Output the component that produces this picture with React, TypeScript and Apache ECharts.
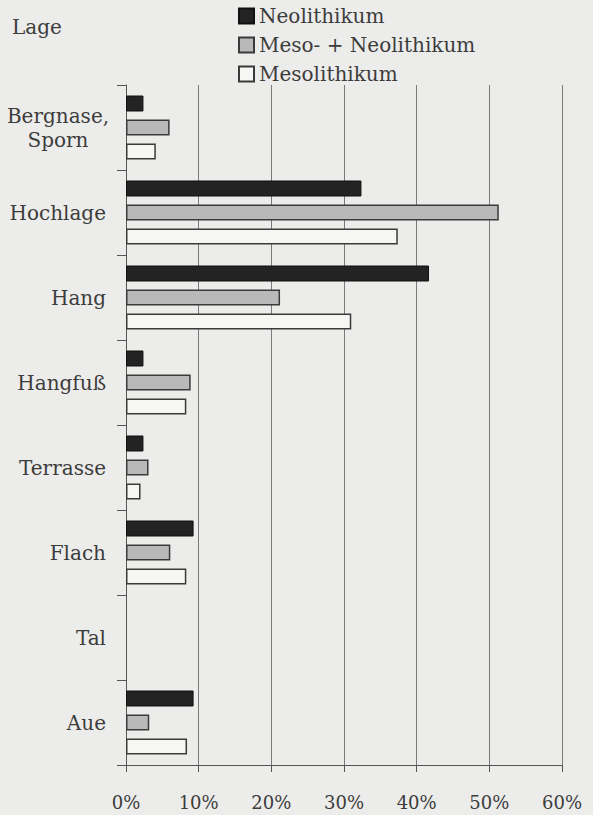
import React, { useEffect, useRef } from "react";
import * as echarts from "echarts";

const categories = ["Bergnase,\nSporn", "Hochlage", "Hang", "Hangfuß", "Terrasse", "Flach", "Tal", "Aue"];
const seriesNames = ["Neolithikum", "Meso- + Neolithikum", "Mesolithikum"];
const neolithikum = [2.4, 32.4, 41.7, 2.4, 2.4, 9.3, 0, 9.3];
const mesoNeolithikum = [6.0, 51.3, 21.2, 8.9, 3.1, 6.1, 0, 3.2];
const mesolithikum = [4.1, 37.4, 31.0, 8.3, 2.0, 8.3, 0, 8.4];
const xTicks = { min: 0, max: 60, interval: 10 };

const FONT = "'DejaVu Serif', 'Liberation Serif', serif";
const TEXT = "#3c3c3c";
const LINE = "#555555";

const withZeroHidden = (arr: number[]) =>
  arr.map((v) => (v === 0 ? { value: v, itemStyle: { borderWidth: 0, opacity: 0 } } : v));

export default function App() {
  const ref = useRef<HTMLDivElement>(null);
  useEffect(() => {
    if (!ref.current) return;
    const chart = echarts.init(ref.current, undefined, { renderer: "svg" });
    const barBase = { type: "bar", barWidth: 16, barGap: "50%" };
    chart.setOption({
      animation: false,
      backgroundColor: "#ececea",
      textStyle: { fontFamily: FONT },
      grid: { left: 126, right: 31, top: 85, bottom: 50, containLabel: false },
      legend: {
        orient: "vertical",
        left: 233,
        top: 0,
        itemWidth: 15,
        itemHeight: 15,
        itemGap: 7,
        icon: "rect",
        data: seriesNames,
        textStyle: { fontFamily: FONT, fontSize: 20, color: TEXT, lineHeight: 22 },
      },
      graphic: [
        {
          type: "text",
          left: 12,
          top: 17,
          style: { text: "Lage", fontFamily: FONT, fontSize: 20, fill: TEXT },
        },
      ],
      xAxis: {
        type: "value",
        min: xTicks.min,
        max: xTicks.max,
        interval: xTicks.interval,
        axisLine: { show: true, lineStyle: { color: LINE, width: 1 } },
        axisTick: { show: true, length: 7, lineStyle: { color: LINE } },
        splitLine: { show: true, lineStyle: { color: "#7a7a7a", width: 1 } },
        axisLabel: {
          formatter: "{value}%",
          fontFamily: FONT,
          fontSize: 18,
          color: TEXT,
          margin: 28,
        },
      },
      yAxis: {
        type: "category",
        inverse: true,
        data: categories,
        axisLine: { show: true, lineStyle: { color: LINE, width: 1 } },
        axisTick: { show: true, length: 9, lineStyle: { color: LINE } },
        axisLabel: {
          margin: 20,
          fontFamily: FONT,
          fontSize: 20,
          color: TEXT,
          formatter: (v: string) =>
            v.indexOf("\n") >= 0
              ? v
                  .split("\n")
                  .map((s) => "{c|" + s + "}")
                  .join("\n")
              : v,
          rich: {
            c: { width: 96, align: "center", fontFamily: FONT, fontSize: 20, color: TEXT, lineHeight: 24 },
          },
        },
      },
      series: [
        {
          ...barBase,
          name: seriesNames[0],
          data: withZeroHidden(neolithikum),
          itemStyle: { color: "#232323", borderColor: "#111111", borderWidth: 1 },
        },
        {
          ...barBase,
          name: seriesNames[1],
          data: withZeroHidden(mesoNeolithikum),
          itemStyle: { color: "#b9b9b9", borderColor: "#3a3a3a", borderWidth: 1.5 },
        },
        {
          ...barBase,
          name: seriesNames[2],
          data: withZeroHidden(mesolithikum),
          itemStyle: { color: "#f6f6f4", borderColor: "#3a3a3a", borderWidth: 1.5 },
        },
      ],
    });
    return () => chart.dispose();
  }, []);
  return (
    <div
      ref={ref}
      style={{ position: "absolute", left: 0, top: 0, width: 593, height: 815 }}
    />
  );
}
